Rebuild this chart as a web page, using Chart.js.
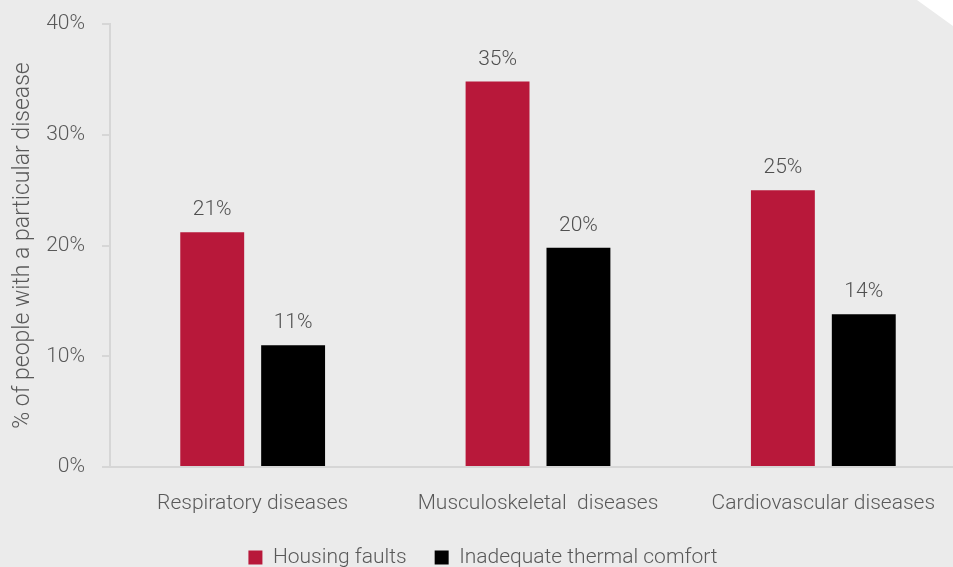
<!DOCTYPE html>
<html lang="en">
<head>
    <meta charset="UTF-8">
    <title>Housing and disease</title>
    <style>
        html, body { margin: 0; padding: 0; width: 953px; height: 567px; overflow: hidden; background: #ebebeb; }
        #wrap { position: absolute; left: 0; top: 0; width: 966px; height: 578px; }
        /* folded page corner, top right */
        #corner { position: absolute; left: 917px; top: 0; width: 36px; height: 26px; background: #ffffff;
                  clip-path: polygon(0 0, 100% 0, 100% 100%); }
    </style>
    <script src="https://cdn.jsdelivr.net/npm/chart.js"></script>
</head>
<body>

<div id="wrap"><canvas id="chart" width="966" height="578"></canvas></div>
<div id="corner"></div>

<script>
    // Share of people with each disease group
    var categories = ['Respiratory diseases', 'Musculoskeletal  diseases', 'Cardiovascular diseases'];
    var housingFaults = [21.2, 34.8, 25.0];
    var thermalComfort = [11.0, 19.8, 13.8];
    var yTicks = [0, 10, 20, 30, 40];

    var textGray = '#595959';
    var lineGray = '#d6d6d6';
    var baseFont = { family: 'Roboto', size: 21, weight: 300 };

    // percentage label above every bar
    var barLabels = {
        id: 'barLabels',
        afterDatasetsDraw: function(chart) {
            var ctx = chart.ctx;
            ctx.save();
            ctx.font = '300 21px Roboto';
            ctx.fillStyle = '#505050';
            ctx.textAlign = 'center';
            ctx.textBaseline = 'alphabetic';
            chart.data.datasets.forEach(function(ds, i) {
                chart.getDatasetMeta(i).data.forEach(function(bar, j) {
                    ctx.fillText(Math.round(ds.data[j]) + '%', bar.x, bar.y - 17);
                });
            });
            ctx.restore();
        }
    };

    new Chart(document.getElementById('chart'), {
        type: 'bar',
        data: {
            labels: categories,
            datasets: [{
                label: 'Housing faults',
                data: housingFaults,
                backgroundColor: '#b8183a'
            }, {
                label: 'Inadequate thermal comfort',
                data: thermalComfort,
                backgroundColor: '#000000'
            }]
        },
        options: {
            responsive: false,
            devicePixelRatio: 1,
            animation: false,
            categoryPercentage: 0.567,
            barPercentage: 0.79,
            layout: { padding: { top: 24, left: 0, right: 0, bottom: 0 } },
            plugins: {
                tooltip: { enabled: false },
                legend: {
                    position: 'bottom',
                    labels: {
                        color: textGray,
                        font: baseFont,
                        boxWidth: 14,
                        boxHeight: 14,
                        padding: 28
                    }
                }
            },
            scales: {
                x: {
                    afterFit: function(scale) { scale.height = 52; },
                    grid: { display: false, drawTicks: false },
                    border: { display: true, color: lineGray, width: 2 },
                    ticks: { color: textGray, font: baseFont, padding: 24, maxRotation: 0, autoSkip: false }
                },
                y: {
                    min: 0,
                    max: 40,
                    afterFit: function(scale) { scale.width = 110; },
                    afterBuildTicks: function(scale) {
                        scale.ticks = yTicks.map(function(v) { return { value: v }; });
                    },
                    grid: { drawOnChartArea: false, drawTicks: true, tickLength: 8, color: lineGray, lineWidth: 2 },
                    border: { color: lineGray, width: 2 },
                    ticks: {
                        color: textGray,
                        font: { family: 'Roboto', size: 21, weight: 300, lineHeight: 0.6 },
                        padding: 17,
                        callback: function(v) { return v + '%'; }
                    },
                    title: {
                        display: true,
                        text: '% of people with a particular disease',
                        color: textGray,
                        font: { family: 'Roboto', size: 23, weight: 300 },
                        padding: { top: 9, bottom: 0 }
                    }
                }
            }
        },
        plugins: [barLabels]
    });
</script>

</body>
</html>
